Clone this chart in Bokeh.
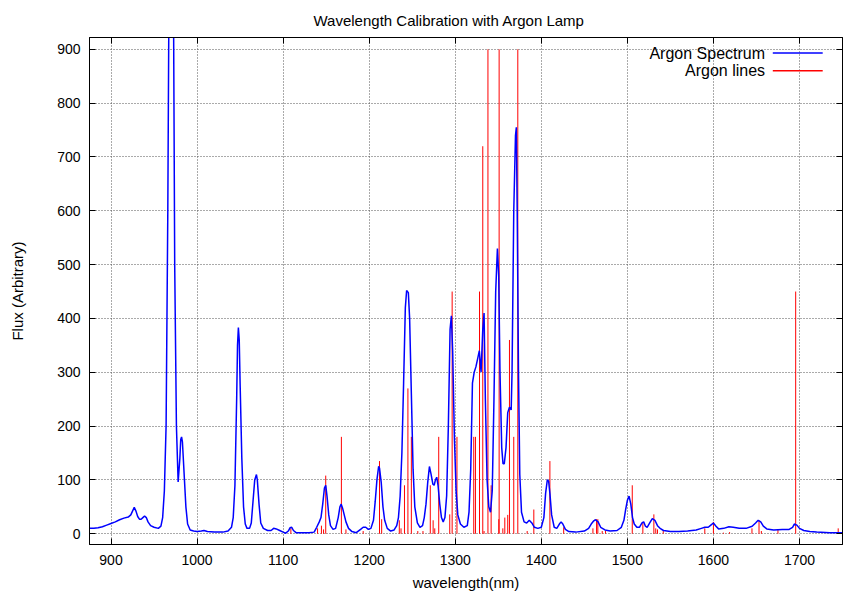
import numpy as np
from bokeh.plotting import figure
from bokeh.models import Range1d, LinearAxis, Label, BoxAnnotation, FixedTicker
from bokeh.embed import file_html
from bokeh.resources import INLINE

# Argon lamp spectrum (wavelength nm, flux)
spec_wl = [875, 880, 885, 890, 895, 900, 905, 910, 915, 920, 923, 925, 927, 929, 931, 933, 935, 937,
           939, 941, 943, 946, 950, 955, 958, 960, 962, 964, 966, 968, 970, 972, 974, 976, 978, 980,
           981, 982, 983, 985, 987, 989, 992, 996, 1000, 1005, 1008, 1012, 1020, 1030, 1036, 1040,
           1042, 1044, 1046, 1047, 1048, 1049, 1050, 1052, 1054, 1056, 1058, 1061, 1063, 1065, 1067,
           1069, 1070, 1072, 1074, 1077, 1082, 1086, 1089, 1092, 1096, 1100, 1103, 1106, 1108, 1110,
           1112, 1115, 1120, 1130, 1136, 1139, 1142, 1144, 1146, 1148, 1149.5, 1151, 1153, 1155, 1158,
           1161, 1164, 1166, 1167.5, 1169, 1171, 1173, 1176, 1180, 1185, 1190, 1193, 1196, 1199, 1202,
           1205, 1207, 1209, 1211, 1212, 1214, 1216, 1218, 1221, 1225, 1229, 1232, 1234, 1236, 1238,
           1240, 1242, 1243.5, 1245.5, 1247, 1249, 1251, 1253, 1256, 1259, 1262, 1264, 1266, 1268,
           1270, 1272, 1274, 1275.5, 1277, 1278.5, 1280, 1282, 1284, 1286, 1288, 1290, 1292, 1294,
           1295.5, 1297, 1299, 1301, 1303, 1306, 1310, 1314, 1316, 1318, 1320, 1322, 1324, 1326, 1328,
           1330, 1332, 1333.5, 1335, 1337, 1339, 1341, 1343, 1345, 1347, 1349, 1350.5, 1352, 1354,
           1355.5, 1357, 1359, 1361, 1363, 1365, 1366, 1368, 1370, 1371, 1372, 1373.5, 1375, 1377,
           1380, 1383, 1386, 1389, 1392, 1396, 1400, 1403, 1405, 1407, 1408.5, 1410, 1412, 1415, 1418,
           1421, 1423, 1425, 1428, 1432, 1440, 1450, 1455, 1458, 1461, 1463, 1466, 1469, 1474, 1480,
           1488, 1493, 1496, 1498, 1500, 1502, 1504, 1506, 1508, 1511, 1514, 1517, 1519, 1521, 1523,
           1526, 1529, 1532, 1535, 1538, 1542, 1550, 1560, 1570, 1580, 1586, 1590, 1594, 1597, 1600,
           1603, 1606, 1612, 1618, 1623, 1630, 1638, 1645, 1649, 1652, 1655, 1658, 1662, 1670, 1680,
           1688, 1692, 1694, 1697, 1700, 1705, 1712, 1720, 1735, 1750]
spec_flux = [10, 10, 11, 13, 16, 19, 22, 26, 29, 31, 35, 42, 49, 42, 32, 27, 27, 30,
             33, 30, 22, 15, 12, 10, 14, 30, 80, 200, 600, 1200, 1500, 1200, 500, 200, 96, 140,
             175, 180, 170, 110, 50, 18, 7, 5, 4, 5, 6, 4, 3, 3, 5, 12,
             30, 90, 250, 350, 383, 360, 280, 140, 50, 18, 10, 10, 20, 60, 100,
             110, 100, 55, 20, 10, 6, 6, 10, 9, 6, 3, 1, 5, 11, 12,
             6, 2, 2, 2, 3, 12, 22, 30, 55, 85, 90, 70, 35, 15, 8,
             10, 30, 50, 55, 48, 35, 22, 10, 4, 2, 8, 12, 12, 8, 10,
             25, 60, 100, 125, 122, 95, 50, 25, 10, 5, 7, 15, 30, 70, 150,
             280, 420, 452, 448, 400, 260, 120, 50, 20, 12, 15, 30, 55, 95,
             125, 110, 92, 90, 100, 105, 90, 55, 30, 22, 30, 70, 200, 380,
             405, 340, 180, 80, 35, 18, 12, 15, 40, 120, 280, 300, 310, 325, 340,
             300, 380, 410, 250, 100, 50, 40, 80, 250, 450, 530, 480, 300, 160,
             130, 130, 160, 225, 235, 230, 300, 600, 740, 755, 600, 300, 110, 40,
             22, 20, 25, 20, 12, 10, 12, 30, 75, 100, 98, 75, 35, 12, 10,
             18, 22, 18, 8, 4, 3, 5, 10, 18, 24, 26, 22, 12, 7, 5,
             6, 12, 25, 45, 62, 70, 55, 30, 18, 12, 12, 20, 22, 14, 12,
             20, 28, 25, 15, 10, 6, 4, 4, 5, 7, 10, 12, 12, 16, 20,
             14, 9, 10, 13, 12, 10, 10, 14, 20, 25, 22, 14, 9, 7, 8,
             8, 12, 18, 16, 10, 6, 4, 3, 2, 2]

# Argon reference lines (wavelength nm, relative intensity)
line_wl = [1109, 1140, 1144.5, 1147, 1149.5, 1167.7, 1173, 1193, 1212, 1214.5, 1235, 1237,
           1241, 1245, 1249, 1256.5, 1262.5, 1271, 1274.3, 1276.2, 1280.8, 1293.6, 1296.4,
           1302, 1321.5, 1323.5, 1328.2, 1332, 1333.5, 1338, 1341.7, 1350.6, 1351, 1355.3,
           1357.6, 1361, 1363, 1368, 1372.7, 1383.6, 1391.3, 1410, 1426, 1460, 1464.2, 1465.7,
           1470.8, 1474.6, 1505.7, 1518, 1530.8, 1533, 1535, 1541.7, 1590, 1600, 1611.6, 1618.8,
           1644.8, 1653, 1655.7, 1675, 1695.6, 1745]
line_int = [10, 10, 15, 8, 108, 180, 8, 5, 135, 27, 25, 10,
            90, 270, 180, 5, 5, 90, 25, 10, 180, 36, 450,
            180, 180, 180, 450, 720, 5, 900, 90, 27, 900, 10,
            30, 35, 360, 180, 900, 5, 45, 135, 12, 10, 27, 27,
            5, 5, 90, 22, 36, 10, 8, 5, 10, 22, 2, 3,
            10, 25, 5, 8, 450, 10]

x_ticks = [900, 1000, 1100, 1200, 1300, 1400, 1500, 1600, 1700]
y_ticks = [0, 100, 200, 300, 400, 500, 600, 700, 800, 900]

FONT = "Liberation Sans"

p = figure(frame_width=753, frame_height=507, output_backend="svg", toolbar_location=None,
           x_range=Range1d(875, 1750), y_range=Range1d(-20, 922),
           min_border_left=89, min_border_right=4, min_border_top=37, min_border_bottom=57,
           title="Wavelength Calibration with Argon Lamp")
p.title.align = "left"
p.title.offset = 224
p.title.vertical_align = "top"
p.title.standoff = 14
p.title.text_font = FONT
p.title.text_font_size = "15px"
p.title.text_font_style = "normal"
p.title.text_color = "#000000"

p.outline_line_color = "black"
p.outline_line_width = 1


def style_axis(ax, show_labels=True):
    ax.major_tick_in = 6
    ax.major_tick_out = 0
    ax.minor_tick_in = 0
    ax.minor_tick_out = 0
    ax.axis_line_color = "black"
    ax.major_tick_line_color = "black"
    ax.major_label_text_font = FONT
    ax.major_label_text_font_size = "14px" if show_labels else "0px"
    ax.major_label_text_color = "black"
    ax.axis_label_text_font = FONT
    ax.axis_label_text_font_size = "15px"
    ax.axis_label_text_font_style = "normal"
    ax.axis_label_text_color = "black"
    if not show_labels:
        ax.major_label_standoff = 0
        ax.major_label_text_alpha = 0


style_axis(p.xaxis[0])
style_axis(p.yaxis[0])
p.xaxis[0].ticker = FixedTicker(ticks=x_ticks)
p.yaxis[0].ticker = FixedTicker(ticks=y_ticks)
p.xaxis[0].axis_label = "wavelength(nm)"
p.yaxis[0].axis_label = "Flux (Arbitrary)"
p.xaxis[0].major_label_standoff = 10
p.xaxis[0].axis_label_standoff = 6
p.yaxis[0].major_label_standoff = 9
p.yaxis[0].axis_label_standoff = 28

# mirrored ticks on top and right (gnuplot border tics)
top_ax = LinearAxis(ticker=FixedTicker(ticks=x_ticks))
style_axis(top_ax, show_labels=False)
p.add_layout(top_ax, "above")
right_ax = LinearAxis(ticker=FixedTicker(ticks=y_ticks))
style_axis(right_ax, show_labels=False)
p.add_layout(right_ax, "right")

for g in (p.xgrid[0], p.ygrid[0]):
    g.grid_line_color = "#555555"
    g.grid_line_dash = "1 2"
    g.grid_line_width = 1
p.xgrid[0].ticker = FixedTicker(ticks=x_ticks)
p.ygrid[0].ticker = FixedTicker(ticks=y_ticks)

# Argon lines as impulses
p.segment(x0=line_wl, y0=[0] * len(line_wl), x1=line_wl, y1=line_int,
          line_color="#ff0000", line_width=1)
# Spectrum
p.line(spec_wl, spec_flux, line_color="#0000ff", line_width=1.5)

# Legend (text right-aligned, sample to the right), gnuplot style
leg_text_x = 1660
leg_rows = [(893, "Argon Spectrum", "#0000ff"), (860, "Argon lines", "#ff0000")]
for yv, txt, col in leg_rows:
    p.add_layout(Label(x=leg_text_x, y=yv, text=txt, text_align="right", text_baseline="middle",
                       text_font=FONT, text_font_size="16px", text_color="black"))
    p.add_layout(BoxAnnotation(left=1669, right=1727, bottom=yv - 1.4, top=yv + 1.4,
                               fill_color=col, fill_alpha=1, line_alpha=0))

p.background_fill_color = "white"
p.border_fill_color = "white"

open("out.html", "w").write(file_html(p, INLINE))
